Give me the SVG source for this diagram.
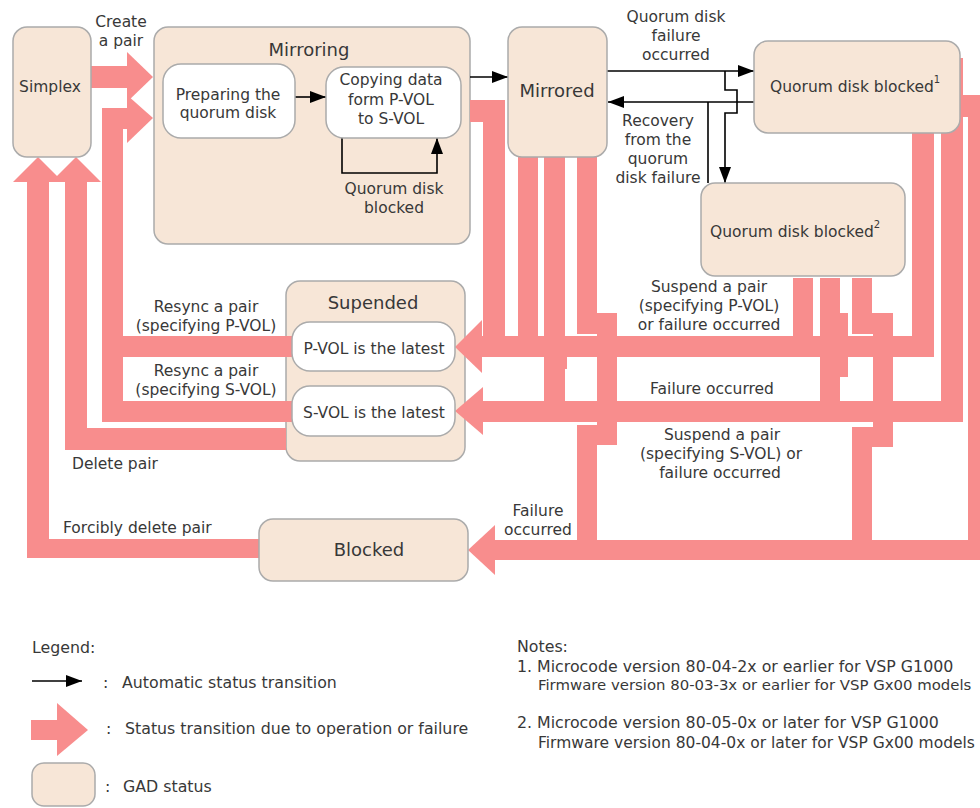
<svg xmlns="http://www.w3.org/2000/svg" width="980" height="808" viewBox="0 0 980 808">
<defs>
<marker id="ah" markerUnits="userSpaceOnUse" markerWidth="16" markerHeight="12" refX="16" refY="6" orient="auto"><path d="M0,0 L16,6 L0,12 z" fill="#000"/></marker>
<style>
.st{fill:#F7E6D7;stroke:#ABABAB;stroke-width:1.5}
.wb{fill:#fff;stroke:#ABABAB;stroke-width:1.5}
.pk{fill:#F88D8D}
.ln{fill:none;stroke:#000;stroke-width:1.6}
text{font-family:"DejaVu Sans",Verdana,sans-serif;font-size:15.5px;fill:#383838}
.c{text-anchor:middle}
.t{font-size:18px}
.n{font-size:15.8px}
.f{font-size:14.9px}
.sup{font-size:10px}
</style>
</defs>
<rect width="980" height="808" fill="#fff"/>

<g id="mirroring">
<rect class="st" x="154" y="27" width="316" height="217" rx="14"/>
<text class="c t" x="309" y="56">Mirroring</text>
</g>
<g id="suspended">
<rect class="st" x="286" y="281" width="179" height="180" rx="14"/>
<text class="c t" x="373" y="309">Supended</text>
</g>

<g id="connectors">
<!-- create a pair -->
<rect class="pk" x="91" y="66" width="37" height="22"/>
<polygon class="pk" points="127,52 153,77 127,102"/>
<!-- resync -->
<rect class="pk" x="102" y="108" width="21" height="314"/>
<rect class="pk" x="102" y="108" width="26" height="21"/>
<polygon class="pk" points="127,95 153,118 127,143"/>
<rect class="pk" x="123" y="336" width="169" height="21"/>
<rect class="pk" x="102" y="401" width="190" height="21"/>
<!-- delete pair -->
<rect class="pk" x="65" y="181" width="22" height="269"/>
<rect class="pk" x="65" y="428" width="221" height="22"/>
<polygon class="pk" points="51,182 76,157 101,182"/>
<!-- forcibly delete -->
<rect class="pk" x="27" y="181" width="22" height="377"/>
<rect class="pk" x="27" y="539" width="233" height="19"/>
<polygon class="pk" points="13,182 38,157 63,182"/>
<!-- into P-VOL / S-VOL / Blocked -->
<polygon class="pk" points="455,347 482,320 482,373"/>
<rect class="pk" x="481" y="336" width="453" height="21"/>
<polygon class="pk" points="455,411 483,387 483,435"/>
<rect class="pk" x="482" y="401" width="481" height="21"/>
<polygon class="pk" points="468,550 495,525 495,575"/>
<rect class="pk" x="494" y="540" width="486" height="20"/>
<!-- from mirroring -->
<rect class="pk" x="470" y="100" width="35" height="22"/>
<rect class="pk" x="483" y="100" width="22" height="237"/>
<!-- from mirrored -->
<rect class="pk" x="518" y="150" width="20" height="187"/>
<rect class="pk" x="544" y="150" width="21" height="252"/>
<rect class="pk" x="546" y="357" width="21" height="12"/>
<rect class="pk" x="577" y="150" width="20" height="184"/>
<rect class="pk" x="577" y="313" width="40" height="21"/>
<rect class="pk" x="597" y="313" width="20" height="132"/>
<rect class="pk" x="577" y="425" width="40" height="20"/>
<rect class="pk" x="577" y="425" width="20" height="125"/>
<!-- from quorum disk blocked 2 -->
<rect class="pk" x="793" y="278" width="20" height="59"/>
<rect class="pk" x="820" y="278" width="20" height="124"/>
<rect class="pk" x="820" y="313" width="28" height="24"/>
<rect class="pk" x="820" y="357" width="28" height="20"/>
<rect class="pk" x="852" y="278" width="20" height="56"/>
<rect class="pk" x="852" y="313" width="41" height="21"/>
<rect class="pk" x="873" y="313" width="20" height="134"/>
<rect class="pk" x="852" y="427" width="41" height="20"/>
<rect class="pk" x="852" y="427" width="20" height="123"/>
<!-- from quorum disk blocked 1 -->
<rect class="pk" x="912" y="125" width="22" height="232"/>
<rect class="pk" x="941" y="58" width="22" height="364"/>
<rect class="pk" x="955" y="95" width="25" height="22"/>
<rect class="pk" x="968" y="95" width="12" height="465"/>
<!-- automatic transitions -->
<path class="ln" d="M295,97 H326" marker-end="url(#ah)"/>
<path class="ln" d="M342,138 V173 H437 V138" marker-end="url(#ah)"/>
<path class="ln" d="M470,77 H508" marker-end="url(#ah)"/>
<path class="ln" d="M607,71 H754" marker-end="url(#ah)"/>
<path class="ln" d="M754,102 H608" marker-end="url(#ah)"/>
<path class="ln" d="M725,71 V90 H737 V113 H725 V183" marker-end="url(#ah)"/>
<path class="ln" d="M708,183 V102"/>
<!-- labels -->
<text class="c" x="121" y="27">Create</text>
<text class="c" x="121" y="46">a pair</text>
<text class="c" x="394" y="194">Quorum disk</text>
<text class="c" x="394" y="213">blocked</text>
<text class="c" x="676" y="22">Quorum disk</text>
<text class="c" x="676" y="41">failure</text>
<text class="c" x="676" y="60">occurred</text>
<text class="c" x="658" y="126">Recovery</text>
<text class="c" x="658" y="145">from the</text>
<text class="c" x="658" y="164">quorum</text>
<text class="c" x="658" y="183">disk failure</text>
<text class="c" x="206" y="312">Resync a pair</text>
<text class="c" x="206" y="331">(specifying P-VOL)</text>
<text class="c" x="206" y="376">Resync a pair</text>
<text class="c" x="206" y="395">(specifying S-VOL)</text>
<text x="72" y="469">Delete pair</text>
<text x="63" y="533">Forcibly delete pair</text>
<text class="c" x="709" y="292">Suspend a pair</text>
<text class="c" x="709" y="311">(specifying P-VOL)</text>
<text class="c" x="709" y="330">or failure occurred</text>
<text class="c" x="712" y="394">Failure occurred</text>
<text class="c" x="722" y="440">Suspend a pair</text>
<text class="c" x="721" y="459">(specifying S-VOL) or</text>
<text class="c" x="720" y="478">failure occurred</text>
<text class="c" x="538" y="516">Failure</text>
<text class="c" x="538" y="535">occurred</text>
</g>

<g id="simplex">
<rect class="st" x="13" y="27" width="78" height="130" rx="14"/>
<text class="c" x="50" y="92">Simplex</text>
</g>
<g id="preparing">
<rect class="wb" x="163" y="64" width="132" height="74" rx="18"/>
<text class="c" x="228" y="100">Preparing the</text>
<text class="c" x="228" y="118">quorum disk</text>
</g>
<g id="copying">
<rect class="wb" x="326" y="67" width="135" height="71" rx="18"/>
<text class="c" x="391" y="85">Copying data</text>
<text class="c" x="391" y="105">form P-VOL</text>
<text class="c" x="391" y="124">to S-VOL</text>
</g>
<g id="mirrored">
<rect class="st" x="508" y="27" width="99" height="130" rx="14"/>
<text class="c t" x="557" y="97">Mirrored</text>
</g>
<g id="qdb1">
<rect class="st" x="754" y="41" width="206" height="92" rx="14"/>
<text x="770" y="92">Quorum disk blocked<tspan class="sup" dy="-9">1</tspan></text>
</g>
<g id="qdb2">
<rect class="st" x="701" y="183" width="204" height="93" rx="14"/>
<text x="710" y="237">Quorum disk blocked<tspan class="sup" dy="-9">2</tspan></text>
</g>
<g id="pvol">
<rect class="wb" x="292" y="322" width="163" height="49" rx="18"/>
<text class="c" x="374" y="354">P-VOL is the latest</text>
</g>
<g id="svol">
<rect class="wb" x="292" y="386" width="163" height="50" rx="18"/>
<text class="c" x="374" y="418">S-VOL is the latest</text>
</g>
<g id="blocked">
<rect class="st" x="259" y="519" width="209" height="62" rx="14"/>
<text class="c t" x="369" y="556">Blocked</text>
</g>

<g id="legend">
<text class="n" x="32" y="653">Legend:</text>
<path class="ln" d="M32,681 H82" marker-end="url(#ah)"/>
<text class="n" x="103" y="688">:</text>
<text class="n" x="122" y="688">Automatic status transition</text>
<rect class="pk" x="31" y="720" width="27" height="20"/>
<polygon class="pk" points="57,703 88,730 57,756"/>
<text class="n" x="106" y="734">:</text>
<text class="n" x="125" y="734">Status transition due to operation or failure</text>
<rect class="st" x="32" y="763" width="63" height="43" rx="12"/>
<text class="n" x="105" y="792">:</text>
<text class="n" x="123" y="792">GAD status</text>
</g>
<g id="notes">
<text class="n" x="517" y="652">Notes:</text>
<text class="n" x="517" y="672">1. Microcode version 80-04-2x or earlier for VSP G1000</text>
<text class="f" x="538" y="690">Firmware version 80-03-3x or earlier for VSP Gx00 models</text>
<text class="n" x="517" y="728">2. Microcode version 80-05-0x or later for VSP G1000</text>
<text x="538" y="748">Firmware version 80-04-0x or later for VSP Gx00 models</text>
</g>
</svg>
